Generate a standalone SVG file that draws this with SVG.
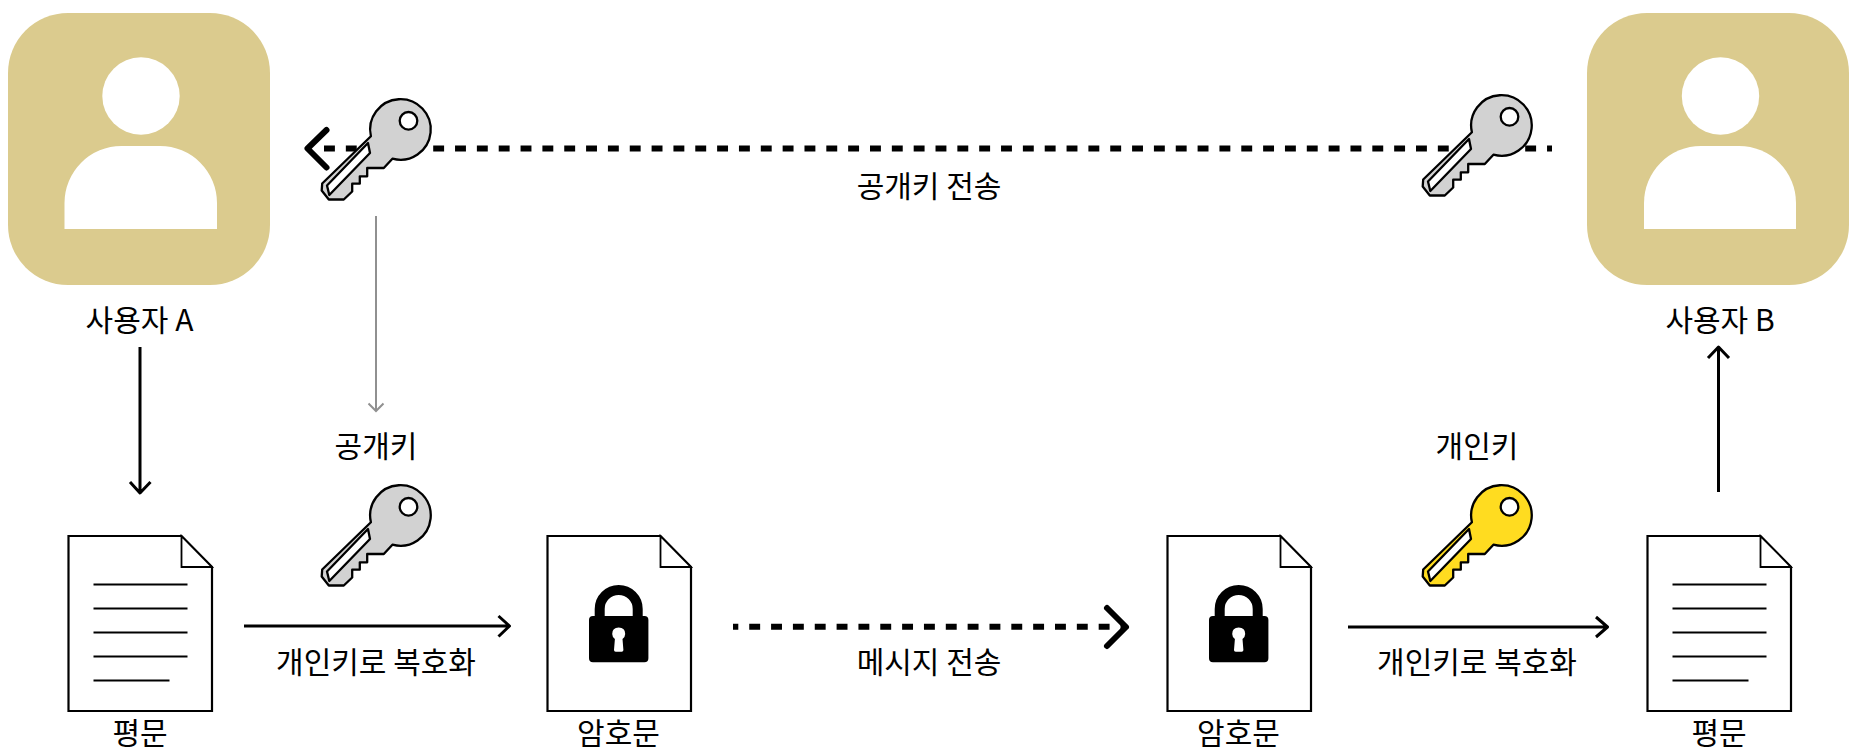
<svg xmlns="http://www.w3.org/2000/svg" width="1859" height="752" viewBox="0 0 1859 752">
<style>
text{font-family:"Noto Sans CJK KR","Noto Sans",sans-serif;font-size:30px;fill:#000;text-anchor:middle}
.u{fill:#dbcb8e}.w{fill:#fff}
.k{stroke:#000;stroke-width:2.3;stroke-linejoin:round}
.d{fill:#fff;stroke:#000;stroke-width:2.2}
.l{stroke:#000;stroke-width:2;fill:none}
.a{stroke:#000;stroke-width:3;fill:none;stroke-linejoin:round}
.g{stroke:#909090;stroke-width:2;fill:none}
.ds{stroke:#000;stroke-width:6;fill:none;stroke-dasharray:10.9 10.94}
.c{stroke:#000;stroke-width:6;fill:none;stroke-linecap:round;stroke-linejoin:round}
</style>
<defs>
<g id="key">
<path class="k" d="M50.400 38.700A30.300 30.300 0 1 1 71.900 61.200L63.300 70.500H46.700V78.800H39.300V86.200H31.700V94L23.300 102H8.300L1.200 93 1.700 86Z"/>
<path class="k" fill="#fff" d="M47.500 45.500L49.500 55.500 8.800 97.500 6.500 88Z" stroke-width="1.800"/>
<circle class="k" fill="#fff" cx="88" cy="23.300" r="8.800"/>
</g>
<g id="doc">
<path class="d" d="M0 0H113L143.500 31V175H0Z"/>
<path d="M113 0V31H143.500Z" fill="#fff" stroke="#000" stroke-width="1.800"/>
</g>
<g id="lines">
<path class="l" d="M25 48.500H119M25 72.500H119M25 96.500H119M25 120.500H119M25 144.500H101"/>
</g>
<g id="lock">
<path d="M-19-20V-31A19 19 0 0 1 19-31V-20" fill="none" stroke="#000" stroke-width="10"/>
<path d="M-25.700-24Q-29.700-24-29.700-20V18.300Q-29.700 22.300-25.700 22.300H25.700Q29.700 22.300 29.700 18.300V-20Q29.700-24 25.700-24Z M-3 11.700H3Q4.700 11.700 4.700 10L3.800-1Q6.500-3 6.500-6 6.500-12.500 0-12.500-6.500-12.500-6.500-6-6.500-3-3.800-1L-4.700 10Q-4.700 11.700-3 11.700Z" fill-rule="evenodd"/>
</g>
</defs>

<g id="connectors">
<path class="ds" d="M324 148.400H1552" stroke-dasharray="10.900 10.920"/>
<path class="c" d="M326.500 130L307.500 148.500 326.500 167.500"/>
<path class="g" d="M376 216V411M368.500 403.500L376 411 383.500 403.500"/>
<path class="a" d="M140 347V493M130 482L140 493 150.500 482"/>
<path class="a" d="M244 626H509M498.500 616L509.500 626 498.500 636.500"/>
<path class="ds" d="M733 626.700H1125" stroke-dashoffset="5.600"/>
<path class="c" d="M1107 608L1126 627 1107 646"/>
<path class="a" d="M1348 627H1607M1596 617L1607.500 627 1596 637"/>
<path class="a" d="M1718.500 492V347M1708 358L1718.500 347 1729 358"/>
</g>

<g id="user-a">
<rect class="u" x="8" y="13" width="262" height="272" rx="60"/>
<circle class="w" cx="141" cy="96" r="38.700"/>
<path class="w" d="M64.500 229V203A57 57 0 0 1 121.500 146H160A57 57 0 0 1 217 203V229Z"/>
<text x="139.500" y="331">사용자 A</text>
</g>
<g id="user-b">
<rect class="u" x="1587" y="13" width="262" height="272" rx="60"/>
<circle class="w" cx="1720.500" cy="96" r="38.700"/>
<path class="w" d="M1644 229V203A57 57 0 0 1 1701 146H1739A57 57 0 0 1 1796 203V229Z"/>
<text x="1720" y="331">사용자 B</text>
</g>
<g id="key-a" fill="#d2d2d2"><use href="#key" x="320.500" y="97.500"/></g>
<g id="key-b" fill="#d2d2d2"><use href="#key" x="1421.500" y="93.500"/></g>
<g id="key-public" fill="#d2d2d2"><use href="#key" x="320.500" y="483.500"/></g>
<g id="key-private" fill="#ffdc20"><use href="#key" x="1421.500" y="483.500"/></g>
<g id="doc-plain-a"><use href="#doc" x="68.500" y="536"/><use href="#lines" x="68.500" y="536"/><text x="140" y="744">평문</text></g>
<g id="doc-cipher-a"><use href="#doc" x="547.500" y="536"/><use href="#lock" x="618.700" y="640"/><text x="618.500" y="744">암호문</text></g>
<g id="doc-cipher-b"><use href="#doc" x="1167.500" y="536"/><use href="#lock" x="1238.700" y="640"/><text x="1238.500" y="744">암호문</text></g>
<g id="doc-plain-b"><use href="#doc" x="1647.500" y="536"/><use href="#lines" x="1647.500" y="536"/><text x="1719" y="744">평문</text></g>
<g id="labels">
<text x="929" y="197">공개키 전송</text>
<text x="376" y="457">공개키</text>
<text x="1477" y="457">개인키</text>
<text x="376" y="673">개인키로 복호화</text>
<text x="929" y="673">메시지 전송</text>
<text x="1477" y="673">개인키로 복호화</text>
</g>
</svg>
